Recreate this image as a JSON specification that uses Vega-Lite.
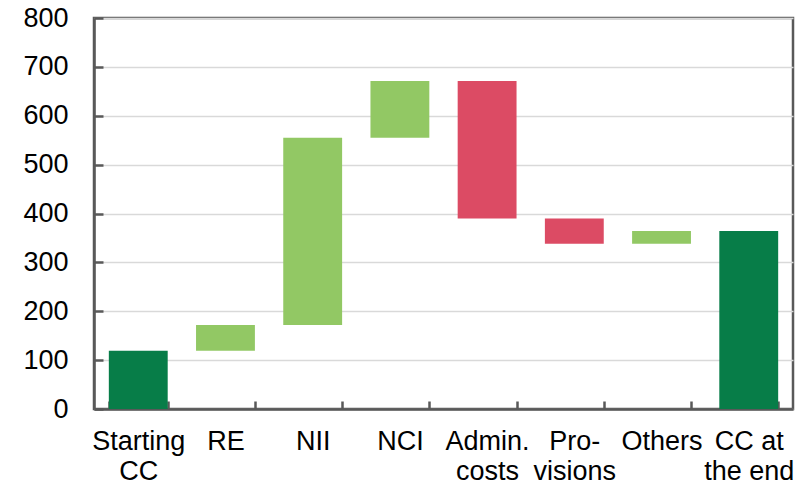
{
  "$schema": "https://vega.github.io/schema/vega-lite/v6.json",
  "width": 699,
  "height": 391,
  "autosize": {"type": "none"},
  "padding": {"left": 94, "top": 18, "right": 18, "bottom": 77},
  "background": "white",
  "config": {
    "view": {"stroke": "#595959", "strokeWidth": 2.5},
    "font": "Liberation Sans"
  },
  "data": {
    "values": [
      {"label": "Starting|CC", "start": 0, "end": 119, "kind": "total"},
      {"label": "RE", "start": 119, "end": 172, "kind": "increase"},
      {"label": "NII", "start": 172, "end": 555, "kind": "increase"},
      {"label": "NCI", "start": 555, "end": 671, "kind": "increase"},
      {"label": "Admin.|costs", "start": 671, "end": 390, "kind": "decrease"},
      {"label": "Pro-|visions", "start": 390, "end": 338, "kind": "decrease"},
      {"label": "Others", "start": 338, "end": 364, "kind": "increase"},
      {"label": "CC at|the end", "start": 0, "end": 364, "kind": "total"}
    ]
  },
  "mark": {"type": "bar"},
  "encoding": {
    "x": {
      "field": "label",
      "type": "nominal",
      "sort": null,
      "scale": {"paddingInner": 0.325, "paddingOuter": 0.17},
      "axis": {
        "title": null,
        "labelAngle": 0,
        "labelExpr": "isValid(datum.value) ? split(datum.value, '|') : ''",
        "labelFontSize": 27,
        "labelColor": "#000000",
        "labelLineHeight": 30,
        "labelPadding": 27,
        "labelOverlap": false,
        "labelBound": false,
        "tickBand": "extent",
        "tickSize": -8,
        "tickWidth": 2.5,
        "tickColor": "#595959",
        "domainColor": "#595959",
        "domainWidth": 2.5,
        "grid": false
      }
    },
    "y": {
      "field": "start",
      "type": "quantitative",
      "scale": {"domain": [0, 800], "nice": false},
      "axis": {
        "title": null,
        "values": [0, 100, 200, 300, 400, 500, 600, 700, 800],
        "labelFontSize": 27,
        "labelColor": "#000000",
        "labelPadding": 35,
        "tickSize": -9,
        "tickWidth": 2.5,
        "tickColor": "#595959",
        "domainColor": "#595959",
        "domainWidth": 2.5,
        "grid": true,
        "gridColor": "#d9d9d9",
        "gridWidth": 1.5
      }
    },
    "y2": {"field": "end"},
    "color": {
      "field": "kind",
      "type": "nominal",
      "scale": {
        "domain": ["total", "increase", "decrease"],
        "range": ["#077D48", "#92C864", "#DC4B64"]
      },
      "legend": null
    }
  }
}
